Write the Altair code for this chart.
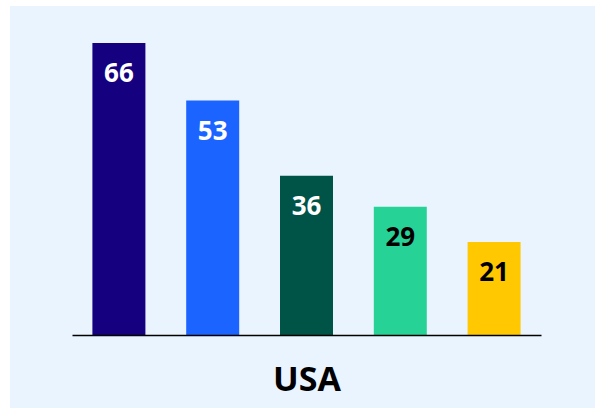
import altair as alt
import pandas as pd

categories = ["1", "2", "3", "4", "5"]
values = [66, 53, 36, 29, 21]
bar_colors = ["#150080", "#1C64FF", "#005347", "#27D297", "#FFC800"]
label_colors = ["#FFFFFF", "#FFFFFF", "#FFFFFF", "#000000", "#000000"]
country = "USA"

df = pd.DataFrame({
    "cat": categories,
    "value": values,
    "bar_color": bar_colors,
    "label_color": label_colors,
})

x_enc = alt.X(
    "cat:N",
    sort=categories,
    scale=alt.Scale(paddingInner=0, paddingOuter=0),
    axis=alt.Axis(
        title=country,
        labels=False,
        ticks=False,
        domainColor="#000000",
        domainWidth=1.5,
        titleFont="Open Sans",
        titleFontSize=34,
        titleFontWeight="bold",
        titleColor="#000000",
        titlePadding=28,
        zindex=1,
    ),
)
y_enc = alt.Y("value:Q", scale=alt.Scale(domain=[0, 66], nice=False), axis=None)

panel = alt.Chart(pd.DataFrame({"k": [0]})).mark_rect(color="#EAF4FE").encode(
    x=alt.value(-62), x2=alt.value(523), y=alt.value(-37), y2=alt.value(365)
)

bars = alt.Chart(df).mark_bar(size=53).encode(
    x=x_enc,
    y=y_enc,
    color=alt.Color("bar_color:N", scale=None),
)

labels = alt.Chart(df).mark_text(
    font="Open Sans", fontSize=26, fontWeight="bold", baseline="middle", dy=31
).encode(
    x=alt.X("cat:N", sort=categories),
    y="value:Q",
    text="value:Q",
    color=alt.Color("label_color:N", scale=None),
)

chart = alt.layer(panel, bars, labels).properties(
    width=469,
    height=292,
    padding={"left": 72, "top": 43, "right": 54, "bottom": 73},
    autosize=alt.AutoSizeParams(type="none"),
    background="#FFFFFF",
).configure_view(stroke=None)

chart.save("out.html", embed_options={"renderer": "svg", "actions": False})
